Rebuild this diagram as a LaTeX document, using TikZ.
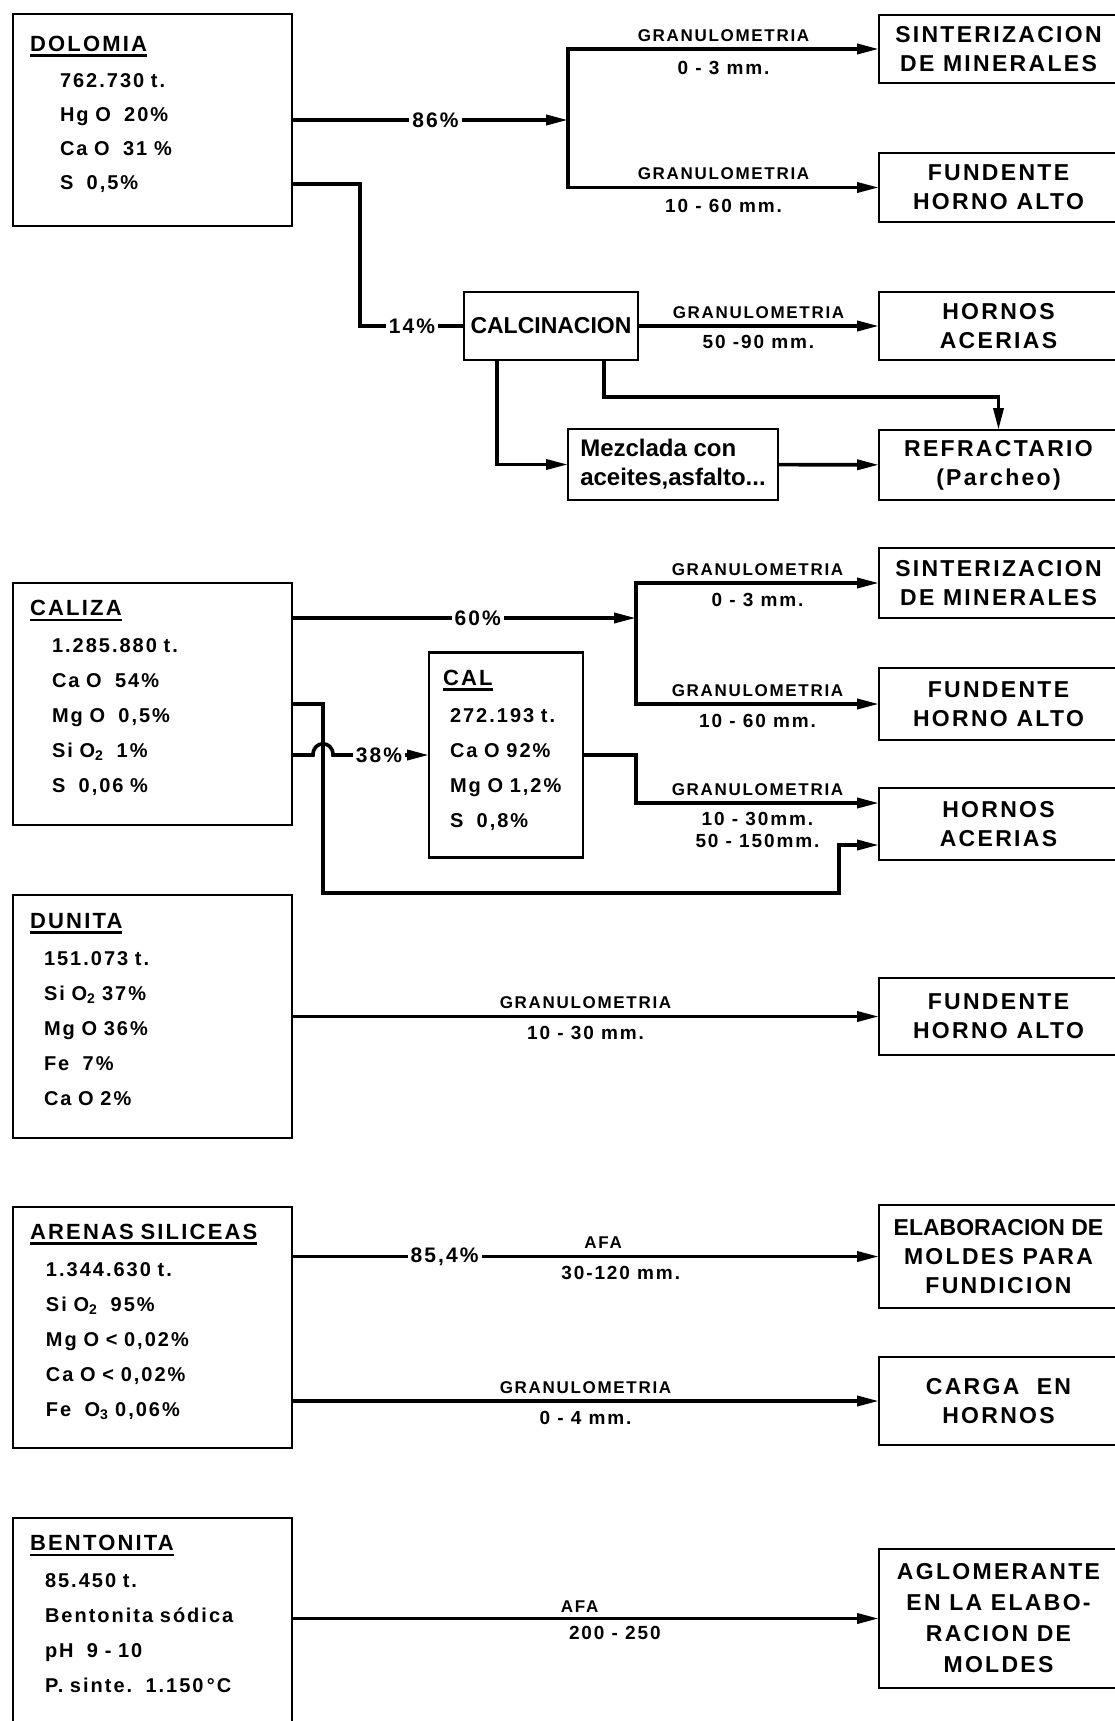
\documentclass[tikz,border=0pt]{standalone}
\usepackage{fontspec}
\setmainfont{Liberation Sans}
\newfontfamily\wide{Liberation Sans}[LetterSpace=10]
\usetikzlibrary{arrows.meta,positioning,calc}

\newcommand{\undl}[1]{\leavevmode\setbox0\hbox{#1}\rlap{\rule[-5.5pt]{\wd0}{2.6pt}}\box0}
\newcommand{\ttl}[1]{{\fontsize{22}{35}\selectfont\undl{#1}}}

\tikzset{
  src/.style  = {rectangle, draw, line width=2.8pt, outer sep=0pt,
                 minimum width=279pt, text width=245pt, inner xsep=17pt,
                 align=left, font=\wide\bfseries\fontsize{20}{35}\selectfont},
  dest/.style = {rectangle, draw, line width=2.8pt, outer sep=0pt,
                 minimum width=239pt, align=center,
                 font=\wide\bfseries\fontsize{23}{29}\selectfont},
  proc/.style = {rectangle, draw, line width=2.8pt, outer sep=0pt,
                 font=\bfseries\fontsize{23}{28}\selectfont},
  lab/.style  = {inner sep=2pt, font=\wide\bfseries\fontsize{17}{22}\selectfont},
  meas/.style = {inner sep=2pt, font=\wide\bfseries\fontsize{19}{22}\selectfont},
  pct/.style  = {fill=white, inner sep=3pt,
                 font=\wide\bfseries\fontsize{21}{24}\selectfont},
  flow/.style = {line width=3.6pt},
  arr/.style  = {flow, -{Triangle[length=22pt,width=10pt]}},
}

\begin{document}
\begin{tikzpicture}[x=1pt, y=-1pt]
\useasboundingbox (0,0) rectangle (1114,1721);

%% ── Raw materials ─────────────────────────────────────────────────────────
\node[src, minimum height=212pt, anchor=north west,
      font=\wide\bfseries\fontsize{20}{34}\selectfont] (dolomia) at (13,14)
  {\ttl{DOLOMIA}\\[2pt]
   \hspace*{30pt}762.730 t.\\
   \hspace*{30pt}Hg O~~20\%\\
   \hspace*{30pt}Ca O~~31 \%\\
   \hspace*{30pt}S~~0,5\%\\[-19pt]\mbox{}};
\node[src, minimum height=242pt, below=357pt of dolomia] (caliza)
  {\ttl{CALIZA}\\[2pt]
   \hspace*{22pt}1.285.880 t.\\
   \hspace*{22pt}Ca O~~54\%\\
   \hspace*{22pt}Mg O~~0,5\%\\
   \hspace*{22pt}Si O\textsubscript{2}~~1\%\\
   \hspace*{22pt}S~~0,06 \%\\[-20pt]\mbox{}};
\node[src, minimum height=243pt, below=70pt of caliza] (dunita)
  {\ttl{DUNITA}\\[2pt]
   \hspace*{14pt}151.073 t.\\
   \hspace*{14pt}Si O\textsubscript{2} 37\%\\
   \hspace*{14pt}Mg O 36\%\\
   \hspace*{14pt}Fe~~7\%\\
   \hspace*{14pt}Ca O~2\%\\[-20pt]\mbox{}};
\node[src, minimum height=241pt, below=69pt of dunita] (arenas)
  {\ttl{ARENAS SILICEAS}\\[2pt]
   \hspace*{16pt}1.344.630 t.\\
   \hspace*{16pt}Si O\textsubscript{2}~~95\%\\
   \hspace*{16pt}Mg O < 0,02\%\\
   \hspace*{16pt}Ca O < 0,02\%\\
   \hspace*{16pt}Fe~~O\textsubscript{3} 0,06\%\\[-20pt]\mbox{}};
\node[src, minimum height=242pt, below=70pt of arenas] (bent)
  {\ttl{BENTONITA}\\[2pt]
   \hspace*{15pt}85.450 t.\\
   \hspace*{15pt}Bentonita sódica\\
   \hspace*{15pt}pH~~9 - 10\\
   \hspace*{15pt}P. sinte.~~1.150\,°C\\[15pt]\mbox{}};

%% ── Intermediate products ─────────────────────────────────────────────────
\node[proc, minimum width=174pt, minimum height=68pt,
      right=172pt of dolomia, yshift=-206pt] (calc) {CALCINACION};
\node[proc, minimum width=210pt, minimum height=71pt, inner xsep=2pt,
      align=left, below=69pt of calc, xshift=122pt,
      font=\bfseries\fontsize{24}{29}\selectfont] (mezcl)
  {Mezclada con\\aceites,asfalto...};
\node[src, minimum width=154pt, text width=126pt, inner xsep=14pt,
      minimum height=205pt, right=137pt of caliza, yshift=-51pt] (cal)
  {\ttl{CAL}\\[2pt]
   \hspace*{7pt}272.193 t.\\
   \hspace*{7pt}Ca O 92\%\\
   \hspace*{7pt}Mg O 1,2\%\\
   \hspace*{7pt}S~~0,8\%\\[-22pt]\mbox{}};

%% ── Uses ──────────────────────────────────────────────────────────────────
\node[dest, minimum height=68pt, right=587pt of dolomia, yshift=71pt] (sint1)
  {SINTERIZACION\\DE MINERALES};
\node[dest, minimum height=69pt, below=70pt of sint1] (fund1) {FUNDENTE\\HORNO ALTO};
\node[dest, minimum height=68pt, below=70pt of fund1] (horn1) {HORNOS\\ACERIAS};
\node[dest, minimum height=70pt, below=70pt of horn1] (refr)  {REFRACTARIO\\(Parcheo)};
\node[dest, minimum height=70pt, below=48pt of refr]  (sint2) {SINTERIZACION\\DE MINERALES};
\node[dest, minimum height=72pt, below=50pt of sint2] (fund2) {FUNDENTE\\HORNO ALTO};
\node[dest, minimum height=72pt, below=48pt of fund2] (horn2) {HORNOS\\ACERIAS};
\node[dest, minimum height=77pt, below=118pt of horn2] (fund3) {FUNDENTE\\HORNO ALTO};
\node[dest, minimum height=103pt, below=150pt of fund3] (elab)
  {{\rmfamily ELABORACION DE}\\MOLDES PARA\\FUNDICION};
\node[dest, minimum height=88pt, below=49pt of elab] (carga) {CARGA~~EN\\HORNOS};
\node[dest, minimum height=139pt, below=104pt of carga,
      font=\wide\bfseries\fontsize{23}{31}\selectfont] (aglo)
  {AGLOMERANTE\\EN LA ELABO-\\RACION DE\\MOLDES};

%% ── Dolomia ───────────────────────────────────────────────────────────────
\coordinate (jd) at ($(dolomia.east)+(276,0)$);
\draw[arr] (dolomia.east) -- node[pct, pos=0.52] {86\%} (jd);
\draw[arr] (jd) |- node[lab, above=4pt, pos=0.75] {GRANULOMETRIA}
                   node[meas, below=8pt, pos=0.75] {0 - 3 mm.} (sint1);
\draw[arr] (jd) |- node[lab, above=4pt, pos=0.75] {GRANULOMETRIA}
                   node[meas, below=8pt, pos=0.75] {10 - 60 mm.} (fund1);

\draw[flow] ([yshift=-64pt]dolomia.east) -| ([xshift=-104pt]calc.west)
            -- node[pct, pos=0.5] {14\%} (calc.west);
\draw[arr] (calc) -- node[lab, above=4pt] {GRANULOMETRIA}
                     node[meas, below=5pt] {50 -90 mm.} (horn1);
\draw[arr] ([xshift=-54pt]calc.south) |- (mezcl);
\draw[arr] ([xshift=53pt]calc.south) |- ([yshift=33pt]refr.north) -- (refr.north);
\draw[arr] (mezcl) -- (refr);

%% ── Caliza ────────────────────────────────────────────────────────────────
\coordinate (jc) at ($([yshift=86pt]caliza.east)+(344,0)$);
\draw[arr] ([yshift=86pt]caliza.east) -- node[pct, pos=0.54] {60\%} (jc);
\draw[arr] (jc) |- node[lab, above=4pt, pos=0.75] {GRANULOMETRIA}
                   node[meas, below=6pt, pos=0.75] {0 - 3 mm.} (sint2);
\draw[arr] (jc) |- node[lab, above=4pt, pos=0.75] {GRANULOMETRIA}
                   node[meas, below=6pt, pos=0.75] {10 - 60 mm.} (fund2);

\draw[arr] (caliza.east |- cal) -- ++(21,0)
           .. controls +(0,-15) and +(0,-15) .. ++(20,0)
           -- node[pct, pos=0.48] {38\%} (cal);
\draw[arr] (cal.east) -- ++(53,0)
           |- node[lab, above=4pt, pos=0.75] {GRANULOMETRIA}
              node[meas, below=5pt, pos=0.75, align=center] {10 - 30mm.\\50 - 150mm.}
              ([yshift=21pt]horn2.west);
\draw[arr] (caliza.east) -- ++(31,0)
           |- ([xshift=-40pt,yshift=-69pt]horn2.west)
           |- ([yshift=-21pt]horn2.west);

%% ── Dunita, arenas, bentonita ─────────────────────────────────────────────
\draw[arr] (dunita.east |- fund3) -- node[lab, above=4pt] {GRANULOMETRIA}
                                     node[meas, below=6pt] {10 - 30 mm.} (fund3);

\draw[arr] (arenas.east |- elab) -- node[pct, pos=0.26] {85,4\%}
                                    node[lab, above=4pt, pos=0.53] {AFA}
                                    node[meas, below=6pt, pos=0.56] {30-120 mm.} (elab);
\draw[arr] (arenas.east |- carga) -- node[lab, above=4pt] {GRANULOMETRIA}
                                     node[meas, below=6pt] {0 - 4 mm.} (carga);

\draw[arr] (bent.east |- aglo) -- node[lab, above=2pt, pos=0.49] {AFA}
                                  node[meas, below=4pt, pos=0.55] {200 - 250} (aglo);

\end{tikzpicture}
\end{document}
